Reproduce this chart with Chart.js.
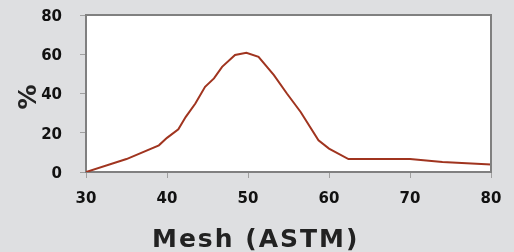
<!DOCTYPE html>
<html>
<head>
<meta charset="utf-8">
<script src="https://cdn.jsdelivr.net/npm/chart.js@4"></script>
<style>
  html, body { margin: 0; padding: 0; background: #dedfe1; }
  #wrap { width: 514px; height: 252px; }
</style>
</head>
<body>
<div id="wrap"><canvas id="meshChart" width="514" height="252"></canvas></div>
<script>
// mesh size (ASTM) and percentage
const mesh = [30, 35, 39, 40, 41.4, 42.3, 43.5, 44.7, 45.8, 46.8, 48.4, 49.8, 51.3, 53.2, 54.8, 56.5, 58.7, 60, 62.4, 70, 74, 80];
const percent = [0, 6.6, 13.6, 17.4, 21.8, 28, 34.9, 43.4, 47.7, 53.6, 59.6, 60.7, 58.7, 49.4, 40, 30.6, 16.2, 11.9, 6.6, 6.6, 5.1, 3.8];
const xTicks = [30, 40, 50, 60, 70, 80];
const yTicks = [0, 20, 40, 60, 80];
const xTitle = 'Mesh (ASTM)';
const yTitle = '%';

const font = 'DejaVu Sans';

// grey page, white plot box with a frame, and the two axis titles
const frame = {
    id: 'frame',
    beforeDraw(chart) {
        const { ctx, chartArea: a } = chart;
        ctx.save();
        ctx.fillStyle = '#dedfe1';
        ctx.fillRect(0, 0, chart.width, chart.height);
        ctx.fillStyle = '#ffffff';
        ctx.fillRect(a.left, a.top, a.right - a.left, a.bottom - a.top);
        ctx.restore();
    },
    afterDraw(chart) {
        const { ctx, chartArea: a } = chart;
        ctx.save();
        ctx.strokeStyle = '#808080';
        ctx.lineWidth = 2;
        ctx.beginPath();
        ctx.moveTo(a.left, a.top);
        ctx.lineTo(a.right, a.top);
        ctx.lineTo(a.right, a.bottom);
        ctx.stroke();

        ctx.fillStyle = '#222';
        ctx.font = 'bold 25px "' + font + '"';
        ctx.letterSpacing = '2px';
        ctx.textAlign = 'left';
        ctx.textBaseline = 'alphabetic';
        ctx.fillText(xTitle, 152, 247);

        ctx.letterSpacing = '0px';
        ctx.translate(36, 97);
        ctx.rotate(-Math.PI / 2);
        ctx.textAlign = 'center';
        ctx.fillText(yTitle, 0, 0);
        ctx.restore();
    }
};

const noPad = s => { s.paddingLeft = 0; s.paddingRight = 0; s.paddingTop = 0; s.paddingBottom = 0; };

new Chart(document.getElementById('meshChart'), {
    type: 'line',
    data: {
        datasets: [{
            data: mesh.map((m, i) => ({ x: m, y: percent[i] })),
            borderColor: '#a0341f',
            borderWidth: 2,
            pointRadius: 0,
            tension: 0,
            fill: false
        }]
    },
    options: {
        responsive: false,
        animation: false,
        layout: { padding: { left: 0, right: 23, top: 15, bottom: 0 } },
        plugins: { legend: { display: false }, tooltip: { enabled: false } },
        scales: {
            x: {
                type: 'linear',
                min: 30, max: 80,
                afterBuildTicks: s => { s.ticks = xTicks.map(v => ({ value: v })); },
                afterFit: s => { s.height = 80; noPad(s); },
                grid: { drawOnChartArea: false, drawTicks: true, tickLength: 6, color: '#a0a0a0', lineWidth: 1 },
                border: { color: '#808080', width: 2 },
                ticks: { padding: 12, color: '#111', font: { family: font, size: 15, weight: 'bold' } }
            },
            y: {
                min: 0, max: 80,
                afterBuildTicks: s => { s.ticks = yTicks.map(v => ({ value: v })); },
                afterFit: s => { s.width = 86; noPad(s); },
                grid: { drawOnChartArea: false, drawTicks: true, tickLength: 6, color: '#a0a0a0', lineWidth: 1 },
                border: { color: '#808080', width: 2 },
                ticks: { padding: 18, labelOffset: 2, color: '#111', font: { family: font, size: 15, weight: 'bold' } }
            }
        }
    },
    plugins: [frame]
});
</script>
</body>
</html>
